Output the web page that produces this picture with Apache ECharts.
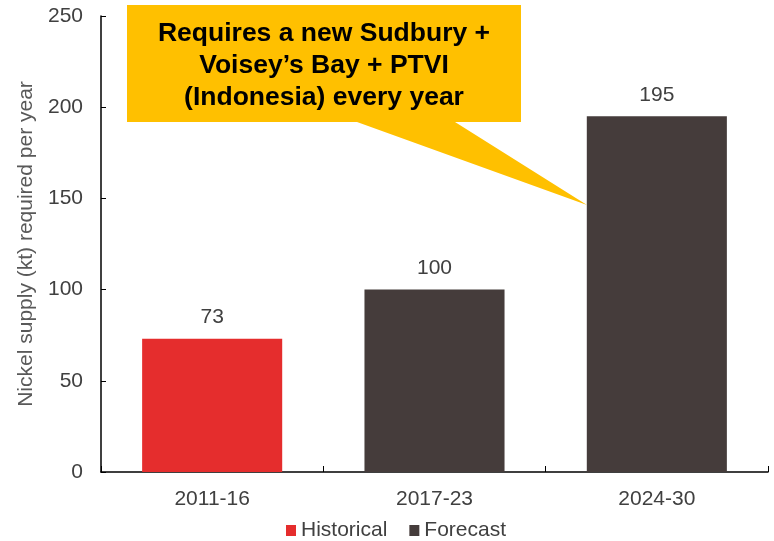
<!DOCTYPE html>
<html>
<head>
<meta charset="utf-8">
<script src="https://cdn.jsdelivr.net/npm/echarts@6/dist/echarts.min.js"></script>
<style>html,body{margin:0;padding:0;background:#fff;}#c{width:774px;height:541px;}</style>
</head>
<body>
<div id="c"></div>
<script>
const categories = ['2011-16', '2017-23', '2024-30'];
const historical = [73, '-', '-'];
const forecast = ['-', 100, 195];
const yTicks = [0, 50, 100, 150, 200, 250];
const calloutLines = ['Requires a new Sudbury +', 'Voisey\u2019s Bay + PTVI', '(Indonesia) every year'];

const FONT = 'Arial, "Liberation Sans", sans-serif';
const chart = echarts.init(document.getElementById('c'));
const labelStyle = {show: true, position: 'top', distance: 11, color: '#404040', fontSize: 21, fontFamily: FONT};
chart.setOption({
  animation: false,
  grid: {left: 101, right: 6, top: 16, bottom: 69, containLabel: false},
  legend: {
    top: 520, left: 286, itemWidth: 10, itemHeight: 11, itemGap: 22, padding: 0,
    icon: 'rect',
    textStyle: {color: '#404040', fontSize: 21, fontFamily: FONT},
    data: ['Historical', 'Forecast']
  },
  xAxis: {
    type: 'category', data: categories,
    axisLine: {lineStyle: {color: '#000', width: 1.5}},
    axisTick: {show: true, inside: true, length: 6, alignWithLabel: false, lineStyle: {color: '#000'}},
    axisLabel: {color: '#404040', fontSize: 21, fontFamily: FONT, margin: 17}
  },
  yAxis: {
    type: 'value', min: yTicks[0], max: yTicks[yTicks.length - 1], interval: 50,
    name: 'Nickel supply (kt) required per year',
    nameLocation: 'middle', nameGap: 62,
    nameTextStyle: {color: '#595959', fontSize: 21, fontFamily: FONT},
    axisLine: {show: true, lineStyle: {color: '#000', width: 1.5}},
    axisTick: {show: true, inside: true, length: 5, lineStyle: {color: '#000'}},
    splitLine: {show: false},
    axisLabel: {color: '#404040', fontSize: 21, fontFamily: FONT, margin: 18}
  },
  series: [
    {name: 'Historical', type: 'bar', data: historical, barWidth: '63%', barGap: '-100%',
     itemStyle: {color: '#E52D2D'}, label: labelStyle},
    {name: 'Forecast', type: 'bar', data: forecast, barWidth: '63%', barGap: '-100%',
     itemStyle: {color: '#453C3B'}, label: labelStyle}
  ],
  graphic: [
    {type: 'polygon', z: 100,
     shape: {points: [[127,5],[521,5],[521,122],[455,122],[587,205],[357,122],[127,122]]},
     style: {fill: '#FFC000'}},
    {type: 'text', z: 101, x: 324, y: 66,
     style: {text: calloutLines.join('\n'), fill: '#000', fontSize: 26.5, fontWeight: 'bold',
             fontFamily: FONT, align: 'center', verticalAlign: 'middle', lineHeight: 32}}
  ]
});
</script>
</body>
</html>
